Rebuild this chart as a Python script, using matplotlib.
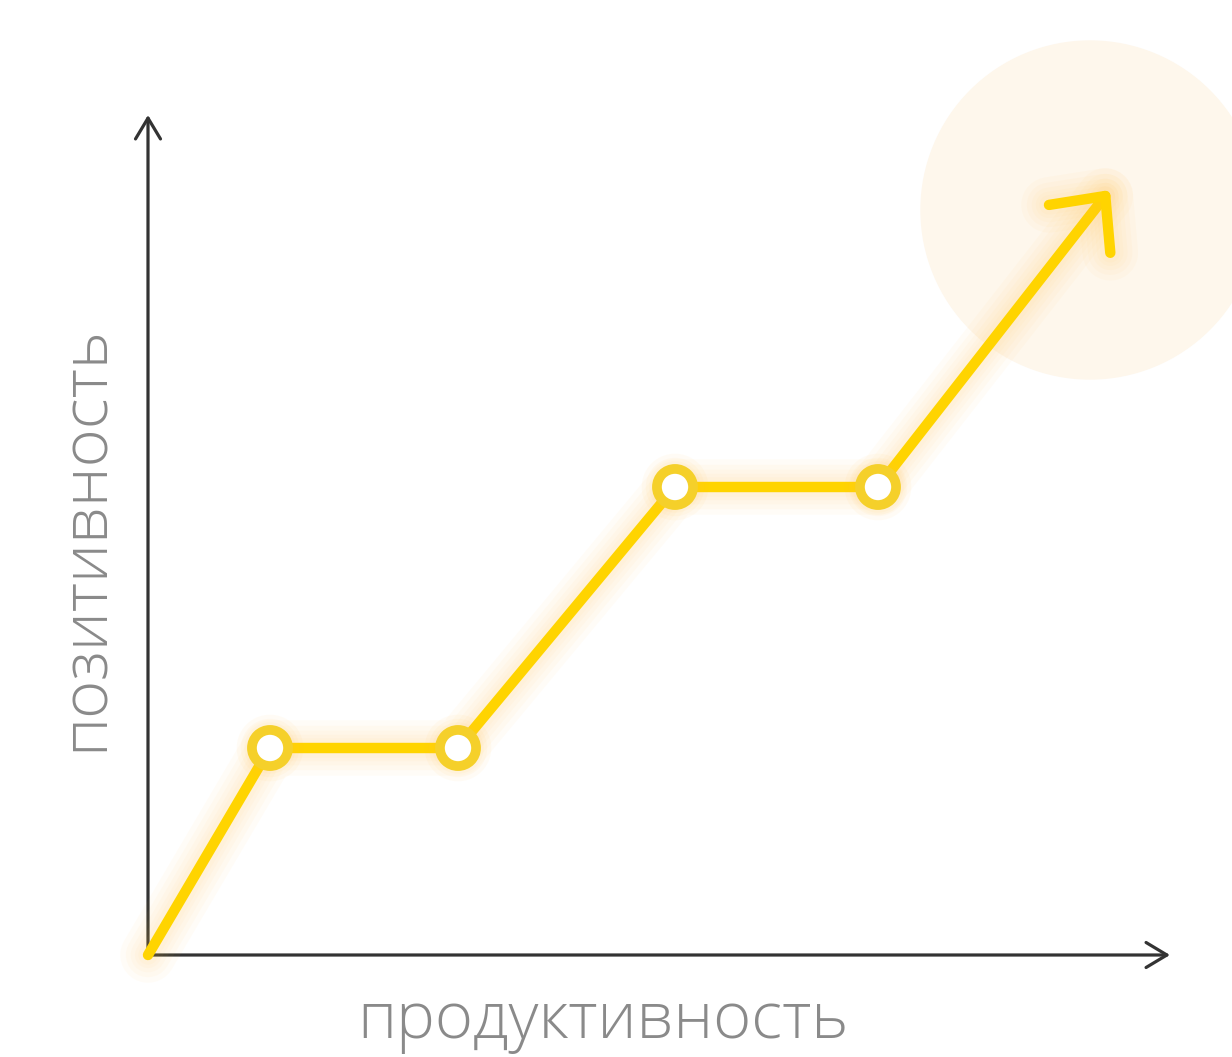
import matplotlib.pyplot as plt
import matplotlib.patheffects as pe
from matplotlib.patches import Circle

# path of the curve (units: one step ~ 100 px)
x_vals = [0, 1.22, 3.10, 5.27, 7.30]
y_vals = [0, 2.07, 2.07, 4.68, 4.68]
marker_idx = [1, 2, 3, 4]
arrow_end = (9.62, 7.65)

x_label = "продуктивность"
y_label = "позитивность"

LINE = "#FFD400"
RING = "#F5D02A"
GLOW = "#FFC040"
AXIS = "#333333"
TEXT = "#8A8A8A"

glow = [pe.Stroke(linewidth=w, foreground=GLOW, alpha=0.04) for w in (40, 32, 25, 19, 14)] + [pe.Normal()]

fig = plt.figure(figsize=(12.32, 10.57), dpi=100)
ax = fig.add_axes([148 / 1232, 102 / 1057, 1022 / 1232, 840 / 1057])
ax.set_xlim(0, 10.22)
ax.set_ylim(0, 8.40)
for s in ax.spines.values():
    s.set_visible(False)
ax.set_xticks([])
ax.set_yticks([])
ax.patch.set_alpha(0)

# soft highlight behind the arrow
ax.add_patch(Circle((9.42, 7.45), 1.69, color="#FEF7EC", zorder=0, clip_on=False))

# axes with open arrow heads
axis_style = "->,head_length=0.75,head_width=0.45"
ax.annotate("", xy=(1, 0), xytext=(0, 0), xycoords="axes fraction",
            arrowprops=dict(arrowstyle=axis_style, color=AXIS, lw=2.3, mutation_scale=20,
                            shrinkA=0, shrinkB=0), zorder=2)
ax.annotate("", xy=(0, 1), xytext=(0, 0), xycoords="axes fraction",
            arrowprops=dict(arrowstyle=axis_style, color=AXIS, lw=2.3, mutation_scale=20,
                            shrinkA=0, shrinkB=0), zorder=2)

# yellow line
ax.plot(x_vals, y_vals, color=LINE, lw=7.5, solid_capstyle="round",
        solid_joinstyle="round", path_effects=glow, zorder=3, clip_on=False)

# final arrow
ax.annotate("", xy=arrow_end, xytext=(x_vals[-1], y_vals[-1]),
            arrowprops=dict(arrowstyle="->,head_length=3.0,head_width=2.8", color=LINE,
                            lw=7.5, mutation_scale=10, shrinkA=0, shrinkB=0,
                            capstyle="round", joinstyle="round", path_effects=glow),
            zorder=3, annotation_clip=False)

# ring markers
ax.plot([x_vals[i] for i in marker_idx], [y_vals[i] for i in marker_idx], "o", ms=26,
        mew=7, mec=RING, mfc="white", zorder=4, clip_on=False,
        path_effects=[pe.Stroke(linewidth=w, foreground=GLOW, alpha=0.05) for w in (22, 16, 11)] + [pe.Normal()])

fig.text(603 / 1232, 1 - 1022 / 1057, x_label, ha="center", va="center",
         fontsize=47, color=TEXT, family="Open Sans", fontweight="light")
fig.text(86 / 1232, 1 - 538 / 1057, y_label, ha="center", va="center", rotation=90,
         fontsize=47, color=TEXT, family="Open Sans", fontweight="light")

fig.savefig("out.png", dpi=100, facecolor="white")
